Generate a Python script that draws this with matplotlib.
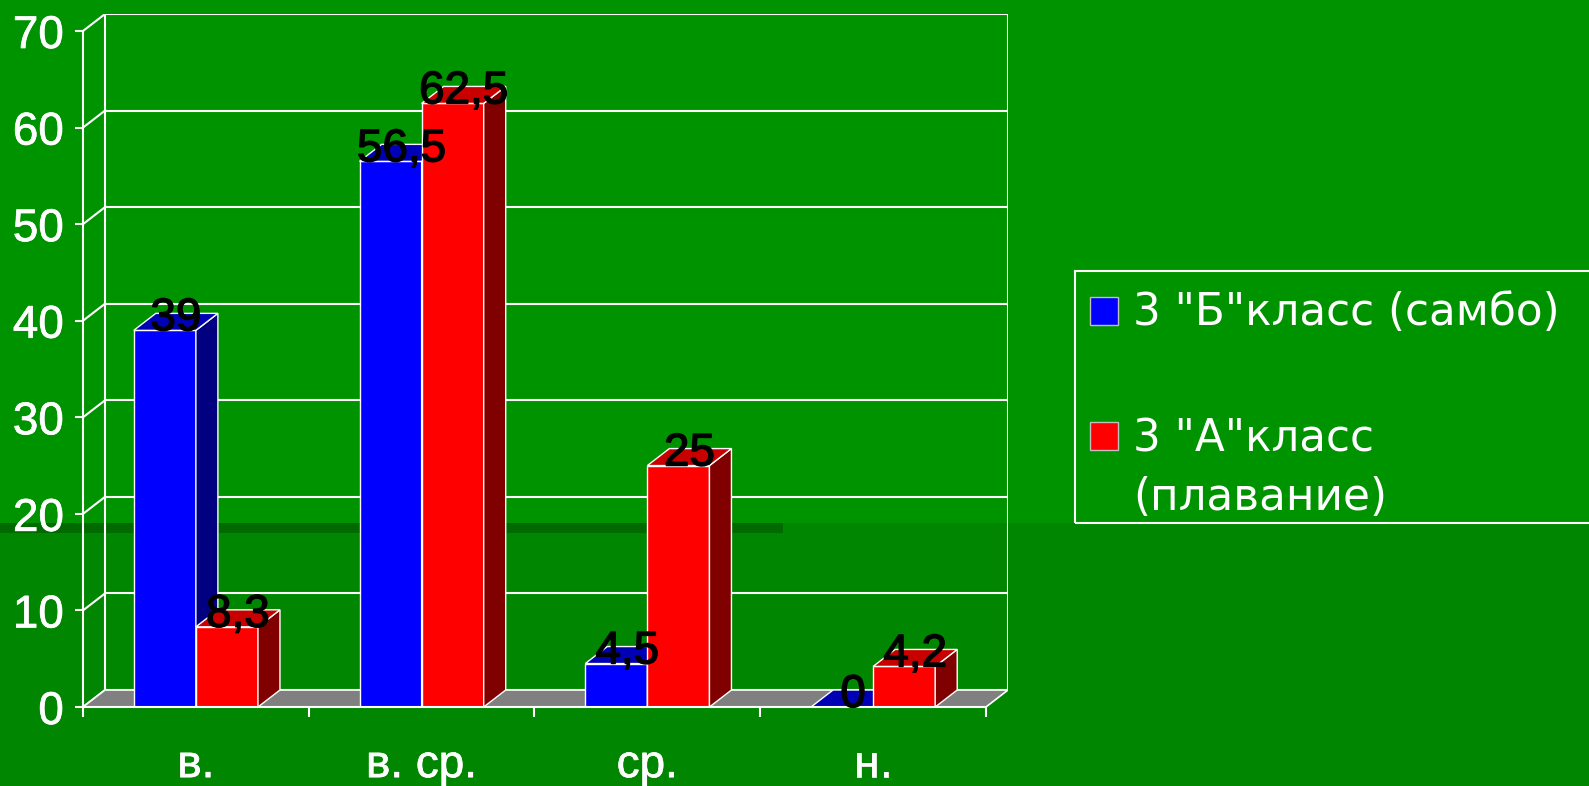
import matplotlib
matplotlib.use('Agg')
import matplotlib.pyplot as plt
import matplotlib.patheffects as pe
from matplotlib.patches import Polygon, Rectangle

plt.rcParams['font.family'] = ['Liberation Sans', 'DejaVu Sans']

categories = ['в.', 'в. ср.', 'ср.', 'н.']
series_names = ['3 "Б"класс (самбо)', '3 "А"класс', '(плавание)']
sambo = [39, 56.5, 4.5, 0]
swimming = [8.3, 62.5, 25, 4.2]
sambo_labels = ['39', '56,5', '4,5', '0']
swimming_labels = ['8,3', '62,5', '25', '4,2']
y_ticks = [0, 10, 20, 30, 40, 50, 60, 70]

W, H = 1589, 786
GREEN_TOP = '#009300'
GREEN_LOW = '#008600'
STRIPE = '#006a00'

# depth of the fake 3d, in data units
DX = 0.0975
DY = 1.76
BAR_W = 0.275


def fx(px):
    return px / W


def fy(py):
    return 1 - py / H


bold_white = [pe.withStroke(linewidth=0.5, foreground='white')]
bold_black = [pe.withStroke(linewidth=1.0, foreground='black')]

fig = plt.figure(figsize=(W / 100, H / 100), dpi=100)
fig.patch.set_facecolor(GREEN_TOP)
fig.add_artist(Rectangle((0, 0), 1, fy(523), transform=fig.transFigure,
                         facecolor=GREEN_LOW, edgecolor='none', zorder=-10))
fig.add_artist(Rectangle((0, fy(533)), fx(783), fy(523) - fy(533), transform=fig.transFigure,
                         facecolor=STRIPE, edgecolor='none', zorder=-9))

ax = fig.add_axes([fx(83), fy(707), fx(1008) - fx(83), fy(14) - fy(707)])
ax.set_facecolor('none')
ax.set_xlim(0, len(categories) + DX)
ax.set_ylim(0, y_ticks[-1] + DY)

n = len(categories)
top = y_ticks[-1]

# back wall grid and side wall diagonals
for v in y_ticks:
    ax.plot([DX, n + DX], [v + DY, v + DY], color='white', lw=1.5, zorder=1)
    ax.plot([0, DX], [v, v + DY], color='white', lw=1.5, zorder=1)
ax.plot([DX, DX], [DY, top + DY], color='white', lw=1.5, zorder=1)
ax.plot([n + DX, n + DX], [DY, top + DY], color='white', lw=1.5, zorder=1)

# floor
ax.add_patch(Polygon([(0, 0), (n, 0), (n + DX, DY), (DX, DY)], closed=True,
                     facecolor='#808080', edgecolor='white', lw=1.2, zorder=2))


def bar3d(x0, v, front, topc, side):
    ax.add_patch(Rectangle((x0, 0), BAR_W, v, facecolor=front, edgecolor='white', lw=1, zorder=3))
    ax.add_patch(Polygon([(x0 + BAR_W, 0), (x0 + BAR_W + DX, DY), (x0 + BAR_W + DX, v + DY), (x0 + BAR_W, v)],
                         closed=True, facecolor=side, edgecolor='white', lw=1, zorder=3))
    ax.add_patch(Polygon([(x0, v), (x0 + BAR_W, v), (x0 + BAR_W + DX, v + DY), (x0 + DX, v + DY)],
                         closed=True, facecolor=topc, edgecolor='white', lw=1, zorder=3))


for i in range(n):
    xb = i + 0.5 - BAR_W
    xr = i + 0.5
    bar3d(xb, sambo[i], '#0000ff', '#0000b4', '#000080')
    bar3d(xr, swimming[i], '#ff0000', '#c80000', '#800000')
    ax.text(xb + BAR_W / 2 + DX / 2, sambo[i], sambo_labels[i], ha='center', va='baseline',
            fontsize=33, color='black', zorder=10, path_effects=bold_black)
    ax.text(xr + BAR_W / 2 + DX / 2, swimming[i], swimming_labels[i], ha='center', va='baseline',
            fontsize=33, color='black', zorder=10, path_effects=bold_black)

# axes
for s in ['top', 'right']:
    ax.spines[s].set_visible(False)
ax.spines['left'].set_bounds(0, top)
ax.spines['bottom'].set_bounds(0, n)
for s in ['left', 'bottom']:
    ax.spines[s].set_color('white')
    ax.spines[s].set_linewidth(1.5)
    ax.spines[s].set_zorder(4)

ax.set_yticks(y_ticks)
ax.set_yticklabels([str(v) for v in y_ticks])
ax.tick_params(axis='y', colors='white', length=5.8, width=1.5, pad=8, labelsize=33)
ax.set_xticks(range(n + 1))
ax.set_xticklabels([''] * (n + 1))
ax.tick_params(axis='x', which='major', colors='white', length=7.2, width=1.5)
ax.set_xticks([i + 0.5 for i in range(n)], minor=True)
ax.set_xticklabels(categories, minor=True)
ax.tick_params(axis='x', which='minor', length=0, pad=26, labelsize=33, colors='white')
for lbl in ax.get_yticklabels() + ax.get_xticklabels(minor=True):
    lbl.set_path_effects(bold_white)

# legend
fig.add_artist(Rectangle((fx(1075), fy(523)), fx(1620) - fx(1075), fy(271) - fy(523),
                         transform=fig.transFigure, facecolor='none', edgecolor='white', lw=1.5))
fig.add_artist(Rectangle((fx(1090), fy(325)), fx(28), fy(297) - fy(325), transform=fig.transFigure,
                         facecolor='#0000ff', edgecolor='#c0c0c0', lw=1))
fig.add_artist(Rectangle((fx(1090), fy(450)), fx(28), fy(422) - fy(450), transform=fig.transFigure,
                         facecolor='#ff0000', edgecolor='#c0c0c0', lw=1))
leg_font = ['DejaVu Sans']
fig.text(fx(1133), fy(325), series_names[0], color='white', fontsize=31.5, va='baseline', family=leg_font)
fig.text(fx(1133), fy(451), series_names[1], color='white', fontsize=31.5, va='baseline', family=leg_font)
fig.text(fx(1133), fy(510), series_names[2], color='white', fontsize=31.5, va='baseline', family=leg_font)

plt.savefig('out.png', dpi=100, facecolor=fig.get_facecolor())
